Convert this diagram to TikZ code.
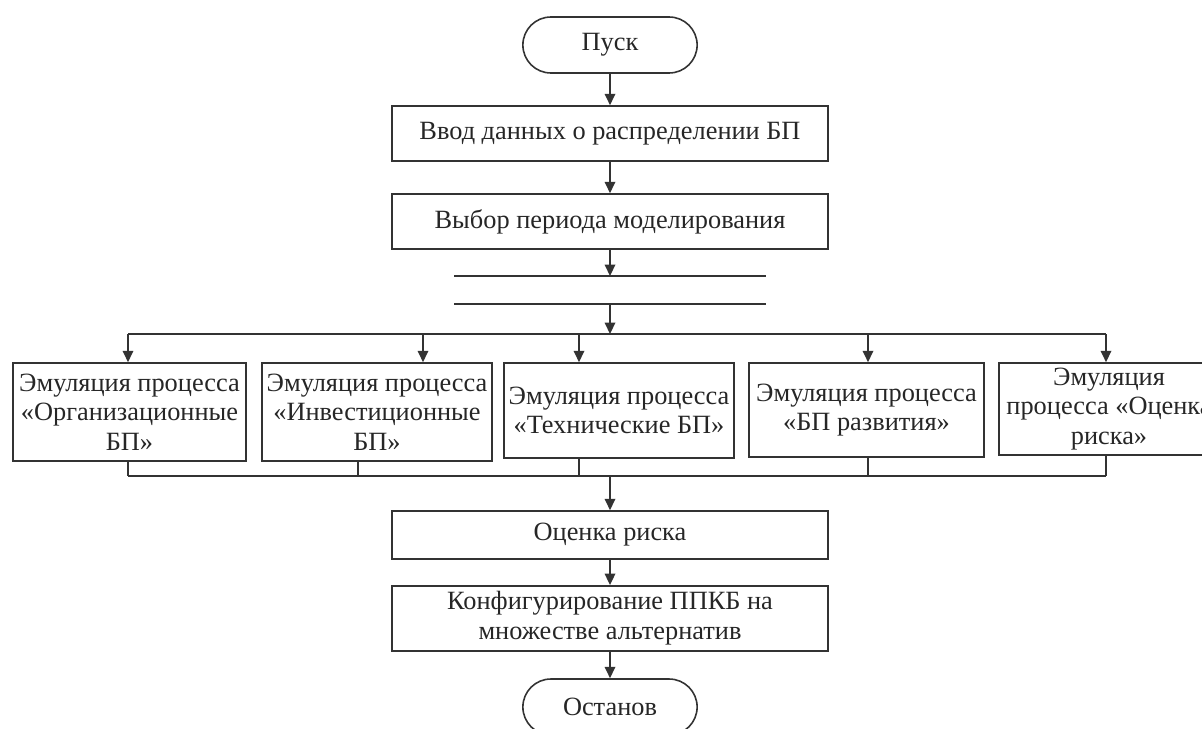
\documentclass[tikz,border=0pt]{standalone}
\usepackage{fontspec}
\setmainfont{Liberation Serif}
\usetikzlibrary{arrows.meta,shapes.misc}

\tikzset{
	flowline/.style={draw=black!80, line width=0.9pt},
	arr/.style={flowline, -{Triangle[length=6.5pt,width=6pt]}},
	txt/.style={font=\fontsize{15}{16.9}\selectfont, text=black!85},
	termbox/.style={txt, rounded rectangle, draw=black!80, line width=0.9pt, minimum width=3.72cm, minimum height=1.12cm},
	procbox/.style={txt, rectangle, draw=black!80, line width=0.9pt, minimum width=8.72cm, align=center},
	emubox/.style={txt, rectangle, draw=black!80, line width=0.9pt, align=center, inner sep=1pt}
}

\begin{document}
\begin{tikzpicture}[x=0.02cm, y=-0.02cm]
		\path[use as bounding box, clip] (0,0) rectangle (1202,729);
		
		% Start and setup
		\node[termbox] (pusk) at (610,45) {Пуск};
		\node[procbox, minimum height=1.1cm] (vvod) at (610,133.5) {Ввод данных о распределении БП};
		\node[procbox, minimum height=1.1cm] (vybor) at (610,221.5) {Выбор периода моделирования};
		
		% Parallel branch
		\coordinate (par1) at (610,276);
		\coordinate (par2) at (610,304);
		\draw[flowline] ([xshift=-3.12cm]par1) -- ([xshift=3.12cm]par1);
		\draw[flowline] ([xshift=-3.12cm]par2) -- ([xshift=3.12cm]par2);
		
		% Emulation blocks
		\node[emubox, minimum width=4.66cm, minimum height=1.96cm] (emuA) at (129.5,412) {Эмуляция процесса\\«Организационные\\БП»};
		\node[emubox, minimum width=4.6cm, minimum height=1.96cm] (emuB) at (377,412) {Эмуляция процесса\\«Инвестиционные\\БП»};
		\node[emubox, minimum width=4.6cm, minimum height=1.9cm] (emuC) at (619,410.5) {Эмуляция процесса\\«Технические БП»};
		\node[emubox, minimum width=4.7cm, minimum height=1.88cm] (emuD) at (866.5,410) {Эмуляция процесса\\«БП развития»};
		\node[emubox, minimum width=4.4cm, minimum height=1.84cm] (emuE) at (1109,409) {Эмуляция\\процесса «Оценка\\риска»};
		
		% Result and finish
		\node[procbox, minimum height=0.96cm] (risk) at (610,535) {Оценка риска};
		\node[procbox, minimum height=1.18cm] (konf) at (610,618.5) {Конфигурирование ППКБ на\\множестве альтернатив};
		\node[termbox] (ostanov) at (610,707) {Останов};
		
		% Bus taps
		\coordinate (busT) at (610,334);
		\coordinate (tA) at (128,334);
		\coordinate (tB) at (423,334);
		\coordinate (tC) at (579,334);
		\coordinate (tD) at (868,334);
		\coordinate (tE) at (1106,334);
		\coordinate (busB) at (610,476);
		\coordinate (bA) at (128,476);
		\coordinate (bB) at (358,476);
		\coordinate (bC) at (579,476);
		\coordinate (bD) at (868,476);
		\coordinate (bE) at (1106,476);
		
		% Connect
		\draw[arr] (pusk) -- (vvod);
		\draw[arr] (vvod) -- (vybor);
		\draw[arr] (vybor) -- (par1);
		\draw[arr] (par2) -- (busT);
		\draw[flowline] (tA) -- (tE);
		\foreach \n in {A,B,C,D,E}
			\draw[arr] (t\n) -- (t\n |- emu\n.north);
		\foreach \n in {A,B,C,D,E}
			\draw[flowline] (b\n |- emu\n.south) -- (b\n);
		\draw[flowline] (bA) -- (bE);
		\draw[arr] (busB) -- (risk);
		\draw[arr] (risk) -- (konf);
		\draw[arr] (konf) -- (ostanov);
		
	\end{tikzpicture}
\end{document}
